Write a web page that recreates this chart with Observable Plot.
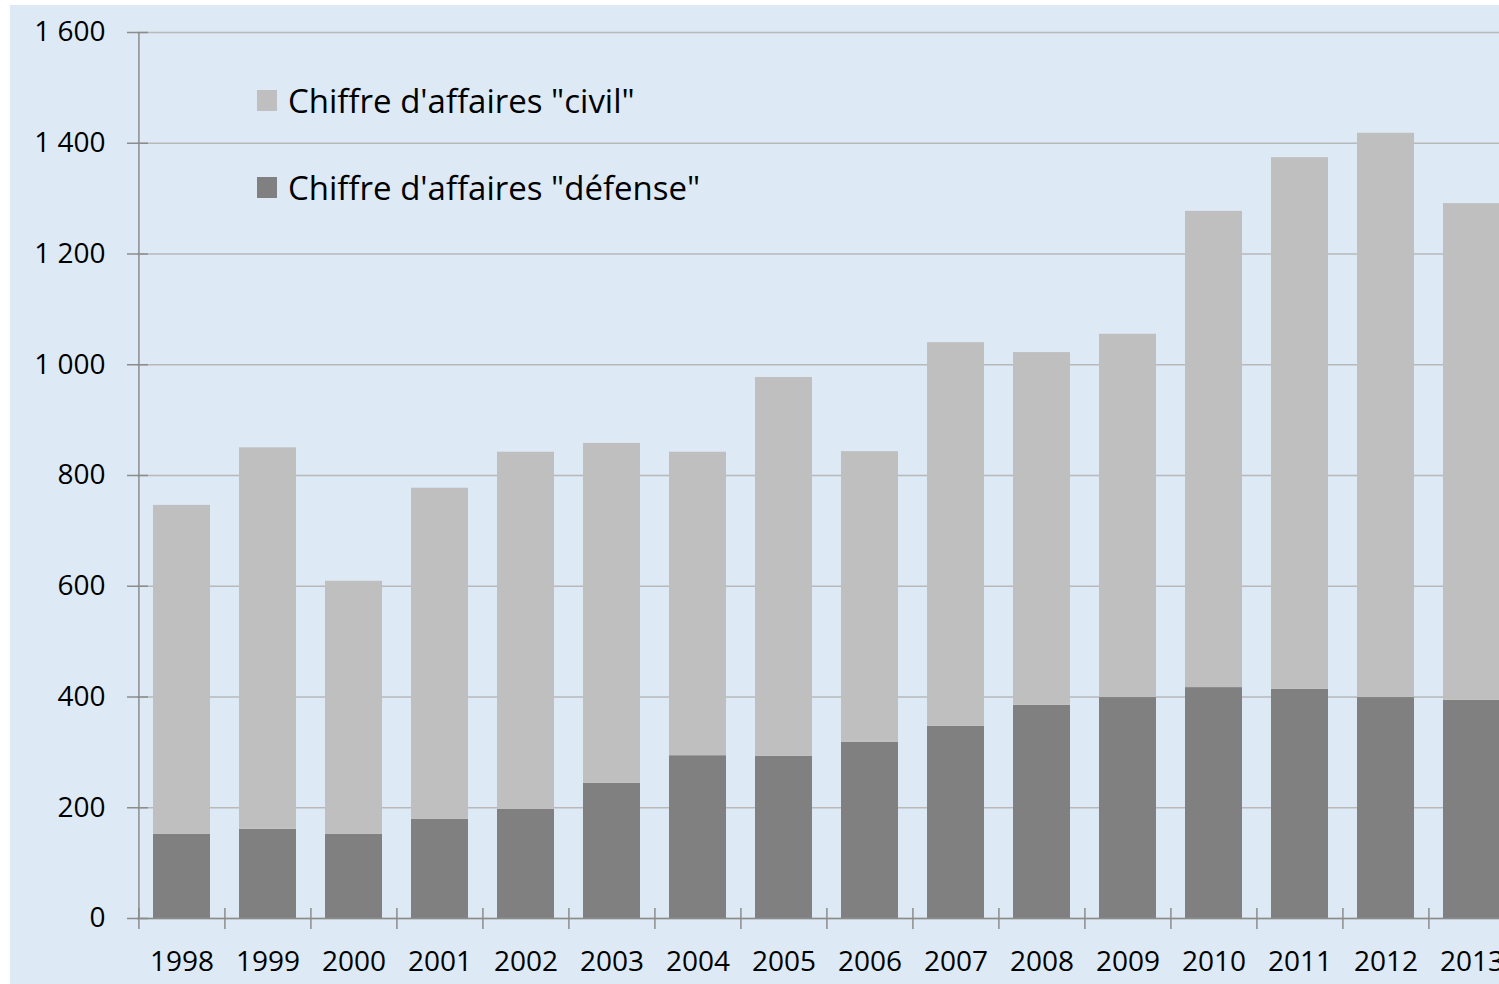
<!DOCTYPE html>
<html>
<head>
<meta charset="utf-8">
<script src="https://cdn.jsdelivr.net/npm/d3@7"></script>
<script src="https://cdn.jsdelivr.net/npm/@observablehq/plot@0.6"></script>
<style>
  html, body { margin: 0; padding: 0; background: #ffffff; overflow: hidden; width: 1499px; height: 984px; }
  #bg { position: absolute; left: 10px; top: 5px; width: 1489px; height: 979px; background: #dde9f5; }
  #chart { position: absolute; left: 0; top: 0; }
  .legend { position: absolute; font-family: "Open Sans", sans-serif; font-size: 33px; color: #000; display: flex; align-items: center; white-space: nowrap; }
  .legend .sw { width: 20px; height: 21px; margin-right: 11px; }
</style>
</head>
<body>
<div id="bg"></div>
<div id="chart"></div>
<div class="legend" style="left:257px; top:78px; height:44px;"><span class="sw" style="background:#bfbfbf"></span>Chiffre d'affaires "civil"</div>
<div class="legend" style="left:257px; top:165px; height:44px;"><span class="sw" style="background:#808080"></span>Chiffre d'affaires "défense"</div>
<script>
const years = ["1998","1999","2000","2001","2002","2003","2004","2005","2006","2007","2008","2009","2010","2011","2012","2013"];
const defense = [152, 161, 152, 179, 197, 244, 294, 293, 318, 347, 385, 399, 417, 414, 399, 394];
const civil = [594, 689, 457, 598, 645, 614, 548, 684, 525, 693, 637, 656, 860, 960, 1019, 897];
const seriesNames = ["défense", "civil"];
const seriesColors = ["#808080", "#bfbfbf"];
const yTicks = [0, 200, 400, 600, 800, 1000, 1200, 1400, 1600];

const data = [];
years.forEach((y, i) => data.push({year: y, series: "défense", value: defense[i]}));
years.forEach((y, i) => data.push({year: y, series: "civil", value: civil[i]}));

const xRange = [137, 1516];
const step = (xRange[1] - xRange[0]) / years.length;
const fmt = d => d3.format(",")(d).replace(/,/g, " ");
const font = "Open Sans, sans-serif";

const chart = Plot.plot({
  width: 1499,
  height: 984,
  marginLeft: 137,
  marginTop: 32,
  marginBottom: 66,
  marginRight: 0,
  style: {background: "transparent", fontFamily: font, fontSize: "28px", color: "#000", overflow: "visible"},
  x: {domain: years, range: xRange, paddingInner: 0.34, paddingOuter: 0.17, label: null},
  y: {domain: [0, 1600], range: [918, 32], label: null},
  color: {domain: seriesNames, range: seriesColors},
  marks: [
    Plot.gridY(yTicks, {stroke: "#b9b9b9", strokeOpacity: 1, strokeWidth: 1.5}),
    Plot.barY(data, {x: "year", y: "value", fill: "series", order: seriesNames}),
    Plot.ruleY([0], {stroke: "#8c8c8c", strokeWidth: 1.5}),
    Plot.ruleX([years[0]], {x: d => d, dx: -step / 2, y1: 0, y2: 1600, stroke: "#8c8c8c", strokeWidth: 1.5}),
    Plot.ruleX(years, {x: d => d, dx: -step / 2, y1: -20, y2: 18, stroke: "#8c8c8c", strokeWidth: 1.5}),
    Plot.axisY({ticks: yTicks, tickSize: 21, dx: 11, tickFormat: () => "", stroke: "#8c8c8c", strokeWidth: 1.5, label: null}),
    Plot.axisY({ticks: yTicks, tickSize: 0, tickPadding: 32, tickFormat: fmt, fill: "#000", fontSize: 28, label: null}),
    Plot.axisX({tickSize: 0, tickPadding: 33, fill: "#000", fontSize: 28, label: null})
  ]
});
document.getElementById("chart").appendChild(chart);
</script>
</body>
</html>
